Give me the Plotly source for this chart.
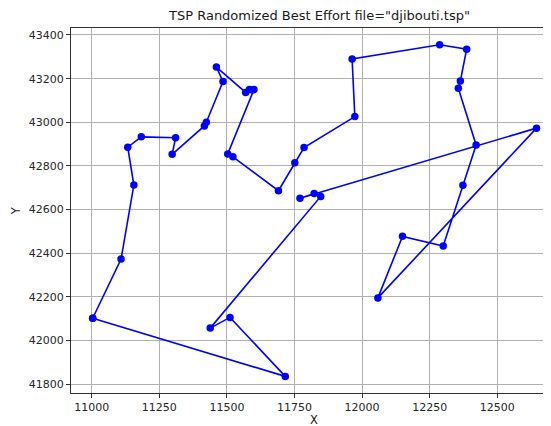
import plotly.graph_objects as go

# djibouti.tsp city coordinates (city id 1..38)
city_x = [11003.6111, 11108.6111, 11133.3333, 11155.8333, 11183.3333, 11297.5000,
          11310.2778, 11416.6667, 11423.8889, 11438.3333, 11461.1111, 11485.5556,
          11503.0556, 11511.3889, 11522.2222, 11569.4444, 11583.3333, 11595.0000,
          11600.0000, 11690.5556, 11715.8333, 11751.1111, 11770.2778, 11785.2778,
          11822.7778, 11846.9444, 11963.0556, 11973.0556, 12058.3333, 12149.4444,
          12286.9444, 12300.0000, 12355.8333, 12363.3333, 12372.7778, 12386.6667,
          12421.6667, 12645.0000]
city_y = [42102.5000, 42373.8889, 42885.8333, 42712.5000, 42933.3333, 42853.3333,
          42929.4444, 42983.3333, 43000.2778, 42057.2222, 43252.7778, 43187.2222,
          42855.2778, 42106.3889, 42841.9444, 43136.6667, 43150.0000, 43148.0556,
          43150.0000, 42686.6667, 41836.1111, 42814.4444, 42651.9444, 42884.4444,
          42673.6111, 42660.5556, 43290.5556, 43026.1111, 42195.5556, 42477.5000,
          43355.5556, 42433.3333, 43156.3889, 43189.1667, 42711.3889, 43334.7222,
          42895.5556, 42973.3333]

# tour order (1-based city ids), closed
tour = [1, 2, 4, 3, 5, 7, 6, 8, 9, 12, 11, 16, 17, 18, 19, 13, 15, 20, 22, 24,
        28, 27, 31, 36, 34, 33, 37, 35, 32, 30, 29, 38, 23, 25, 26, 10, 14, 21, 1]

x_ticks = [11000, 11250, 11500, 11750, 12000, 12250, 12500]
y_ticks = [41800, 42000, 42200, 42400, 42600, 42800, 43000, 43200, 43400]

tx = [city_x[i - 1] for i in tour]
ty = [city_y[i - 1] for i in tour]

FONT = "DejaVu Sans"

fig = go.Figure()
fig.add_trace(go.Scatter(
    x=tx, y=ty, mode="lines+markers",
    line=dict(color="#0000ff", width=1.6),
    marker=dict(color="#0000ff", size=7.5),
    showlegend=False, hoverinfo="skip",
))

# page body has an 8px margin, so the figure is 8px smaller than the window
fig.update_layout(
    width=543, height=418,
    margin=dict(l=63, r=0, t=20, b=33, pad=0),
    paper_bgcolor="white", plot_bgcolor="white",
    font=dict(family=FONT, size=11, color="#262626"),
    showlegend=False,
    annotations=[
        dict(text='TSP Randomized Best Effort file="djibouti.tsp"', xref="paper", yref="paper",
             x=0.517, y=1.033, xanchor="center", yanchor="middle", showarrow=False,
             font=dict(family=FONT, size=13, color="#1a1a1a")),
        dict(text="X", xref="paper", yref="paper", x=0.506, y=-0.074, xanchor="center",
             yanchor="middle", showarrow=False, font=dict(family=FONT, size=11.5, color="#1a1a1a")),
        dict(text="Y", xref="paper", yref="paper", x=-0.115, y=0.5, xanchor="center",
             yanchor="middle", textangle=-90, showarrow=False,
             font=dict(family=FONT, size=11.5, color="#1a1a1a")),
    ],
)

fig.update_xaxes(
    range=[10923.4, 12698.6], tickvals=x_ticks, ticktext=[str(v) for v in x_ticks],
    showgrid=True, gridcolor="#b0b0b0", gridwidth=0.8,
    showline=True, linecolor="#333333", linewidth=1, mirror=True,
    ticks="outside", ticklen=4, tickcolor="#333333", tickwidth=1,
    zeroline=False, tickfont=dict(family=FONT, size=11, color="#262626"),
)
fig.update_yaxes(
    range=[41760, 43432], tickvals=y_ticks, ticktext=[str(v) for v in y_ticks],
    showgrid=True, gridcolor="#b0b0b0", gridwidth=0.8,
    showline=True, linecolor="#333333", linewidth=1, mirror=False,
    ticks="outside", ticklen=4, tickcolor="#333333", tickwidth=1,
    zeroline=False, tickfont=dict(family=FONT, size=11, color="#262626"),
)

fig.write_html("out.html")
